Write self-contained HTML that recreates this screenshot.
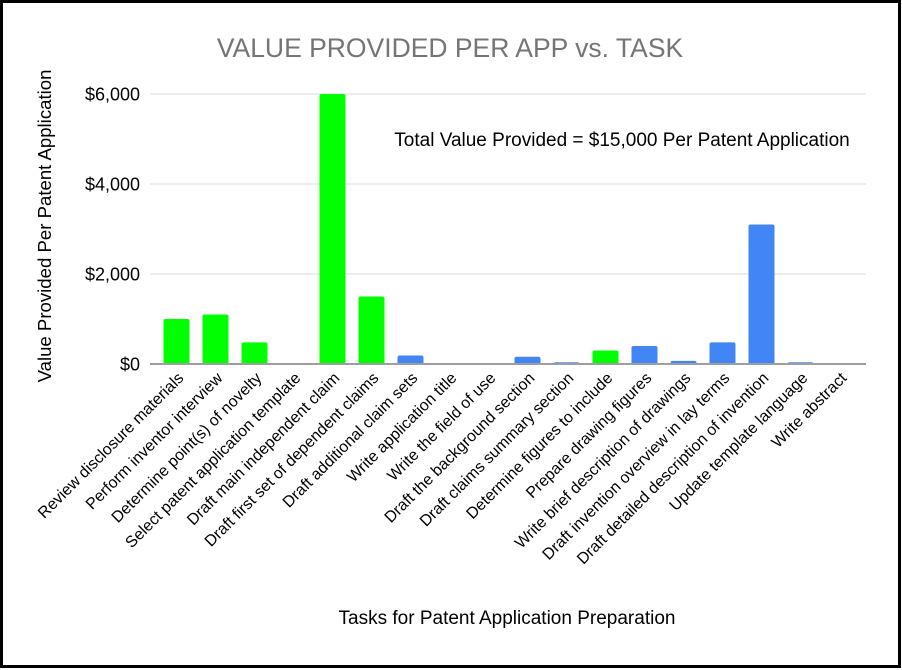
<!DOCTYPE html>
<html><head><meta charset="utf-8"><style>
html,body{margin:0;padding:0;background:#fff}
svg{display:block;font-family:"Liberation Sans",Arial,sans-serif}
</style></head><body>
<svg id="chart" width="902" height="670" viewBox="0 0 902 670">
<rect x="1.5" y="1.5" width="898" height="665" fill="#fff" stroke="#000" stroke-width="3"/>
<text x="450" y="57" text-anchor="middle" font-size="26.5" fill="#757575">VALUE PROVIDED PER APP vs. TASK</text>
<text x="622" y="146" text-anchor="middle" font-size="19" fill="#000">Total Value Provided = $15,000 Per Patent Application</text>
<text transform="translate(51,226) rotate(-90)" text-anchor="middle" font-size="18.6" fill="#000">Value Provided Per Patent Application</text>
<text x="507" y="624" text-anchor="middle" font-size="19" fill="#000">Tasks for Patent Application Preparation</text>
<g id="grid"></g><g id="bars"></g><g id="xlabels"></g>
</svg>
<script>
const categories=["Review disclosure materials","Perform inventor interview","Determine point(s) of novelty","Select patent application template","Draft main independent claim","Draft first set of dependent claims","Draft additional claim sets","Write application title","Write the field of use","Draft the background section","Draft claims summary section","Determine figures to include","Prepare drawing figures","Write brief description of drawings","Draft invention overview in lay terms","Draft detailed description of invention","Update template language","Write abstract"];
const values=[1000,1100,480,0,6000,1500,190,0,0,160,40,300,400,70,480,3100,40,0];
const highlighted=[1,1,1,1,1,1,0,0,0,0,0,1,0,0,0,0,0,0];
const yTicks=[0,2000,4000,6000];
const yTickLabels=["$0","$2,000","$4,000","$6,000"];
const NS="http://www.w3.org/2000/svg";
const y0=364,yTop=94,yMax=6000,x0=157,step=39,bw=26;
function yScale(v){return y0-(v/yMax)*(y0-yTop);}
function xCenter(i){return x0+step*(i+0.5);}
function mk(t,a,p){const e=document.createElementNS(NS,t);for(const k in a)e.setAttribute(k,a[k]);p.appendChild(e);return e;}
const grid=document.getElementById('grid'),bars=document.getElementById('bars'),xl=document.getElementById('xlabels');
yTicks.forEach((v,i)=>{
  const y=yScale(v);
  if(v!==0){const l=mk('line',{x1:150,x2:866,y1:y,y2:y,stroke:'#d9d9d9','stroke-width':1},grid);
  
  }
  const t=mk('text',{x:140,y:y+6.5,'text-anchor':'end','font-size':18,fill:'#000'},grid);
  t.textContent=yTickLabels[i];
  
  
});
values.forEach((v,i)=>{
  const cx=xCenter(i);
  if(v>0){const h=y0-yScale(v);
  const r=mk('path',{d:`M${cx-bw/2},${y0}V${y0-h+2}q0,-2 2,-2H${cx+bw/2-2}q2,0 2,2V${y0}Z`,fill:highlighted[i]?'#00ff00':'#4285f4'},bars);
  
  }
  const t=mk('text',{transform:`translate(${cx+8},${y0+15}) rotate(-45)`,'text-anchor':'end','font-size':16,fill:'#000'},xl);
  t.textContent=categories[i];
  
  
});
const ax=mk('line',{x1:150,x2:866,y1:y0,y2:y0,stroke:'#9e9e9e','stroke-width':2},bars);


</script>
</body></html>
